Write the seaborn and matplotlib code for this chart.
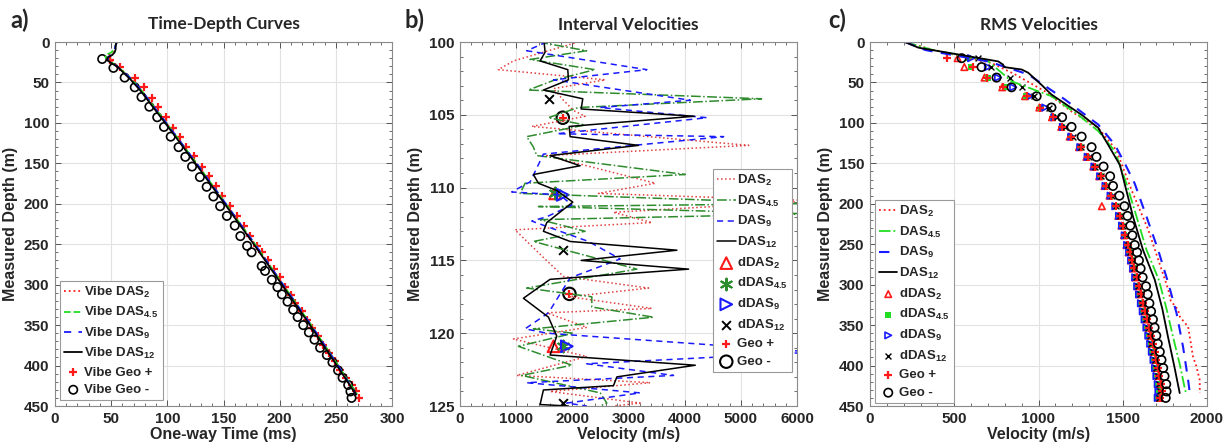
import matplotlib
matplotlib.use("Agg")
import matplotlib.pyplot as plt
from matplotlib.ticker import MultipleLocator, AutoMinorLocator
import seaborn as sns

# ---------------- a) time-depth curves ----------------
das_depth_a = [0, 4, 9, 13, 16, 19, 22, 26, 31, 38, 46, 60, 80, 100, 150, 200, 250, 300, 350, 400, 436]
das2_time_a = [55, 54, 53, 51, 48, 47, 48, 52, 57, 62, 68, 77, 88, 99, 126, 152, 178, 203, 228, 252, 268]
das45_time_a = [55, 54, 53, 50, 45, 45, 47, 51, 56, 62, 68, 77, 88, 99, 126, 152, 178, 203, 228, 252, 269]
das9_time_a = [55, 54, 53, 52, 50, 47, 47, 51, 56, 62, 68, 77, 88, 99, 126, 152, 178, 203, 228, 252, 268]
das12_time_a = [55, 54, 54, 53, 51, 47, 46, 50, 56, 61, 67, 76, 87, 98, 125, 151, 177, 202, 227, 251, 268]

geo_plus_depth_a = [22, 31, 44, 56, 69, 80, 93, 106, 117, 130, 141, 154, 166, 178, 191, 203, 215, 227, 240, 252,
                    260, 270, 281, 291, 303, 313, 323, 333, 344, 354, 364, 374, 384, 394, 405, 415, 424, 431, 440]
geo_plus_time_a = [49, 58, 71, 79, 86, 92, 99, 105, 111, 117, 124, 131, 137, 143, 149, 156, 162, 168, 174, 180,
                   184, 190, 195, 200, 205, 210, 214, 220, 224, 229, 234, 239, 244, 249, 254, 259, 264, 268, 271]
geo_minus_depth_a = [21, 32, 44, 56, 68, 80, 93, 105, 117, 130, 142, 154, 167, 179, 191, 203, 215, 227, 240, 252,
                     260, 277, 283, 294, 303, 312, 321, 331, 340, 350, 359, 368, 378, 387, 396, 406, 415, 424, 432, 440]
geo_minus_time_a = [42, 52, 62, 71, 77, 84, 91, 97, 103, 110, 116, 122, 129, 135, 141, 147, 153, 160, 165, 171,
                    175, 184, 187, 193, 198, 202, 207, 212, 216, 221, 226, 231, 236, 242, 247, 252, 256, 261, 263, 264]

# ---------------- b) interval velocities ----------------
das2_depth_b = [100.0, 101.3, 101.9, 102.6, 103.2, 104.0, 104.7, 105.1, 105.8, 107.1, 107.8, 109.7, 110.4, 110.9,
                111.7, 112.4, 112.9, 114.8, 116.1, 116.9, 117.5, 118.3, 118.6, 119.6, 120.4, 121.6, 122.9, 123.4,
                124.0, 124.8, 125.0]
das2_vel_b = [2109, 951, 683, 2585, 1664, 1842, 2020, 2228, 1278, 5140, 1545, 3476, 2466, 6300, 2733, 3416, 980,
              1485, 1842, 3357, 1950, 3416, 1545, 2258, 951, 2258, 1010, 3387, 1604, 3208, 2733]
das45_depth_b = [100.0, 100.6, 101.2, 101.9, 102.6, 103.3, 103.9, 104.5, 105.2, 105.7, 106.5, 107.2, 107.8, 109.1,
                 109.7, 110.4, 111.1, 111.3, 111.8, 112.2, 113.0, 113.7, 115.6, 116.9, 117.5, 118.2, 118.9, 119.7,
                 120.0, 120.9, 122.2, 122.9, 124.1, 124.8, 125.0]
das45_vel_b = [1394, 2255, 1246, 2403, 1691, 1216, 5370, 2106, 1572, 2225, 1187, 1305, 1367, 4011, 1159, 1070, 6200,
               1396, 6200, 1426, 2228, 1307, 3149, 1188, 2347, 2347, 3446, 1307, 2020, 1040, 1991, 1099, 2496, 2614, 2496]
das9_depth_b = [100.0, 100.6, 101.9, 102.6, 104.0, 104.5, 105.2, 106.3, 106.5, 107.7, 109.6, 110.3, 110.5, 111.2,
                112.0, 112.3, 113.7, 114.9, 116.2, 118.6, 119.7, 120.0, 121.3, 122.1, 122.9, 123.4, 124.1, 124.8, 125.0]
das9_vel_b = [1545, 1188, 3327, 1664, 4100, 2496, 4397, 1723, 4694, 1485, 1250, 921, 1783, 1991, 1545, 1278, 2288,
              2852, 1961, 1575, 1159, 1545, 6300, 2258, 3802, 1188, 3208, 1901, 2258]
das12_depth_b = [100.0, 100.7, 101.3, 101.9, 102.6, 103.3, 103.9, 104.6, 105.1, 105.8, 106.5, 107.1, 107.8, 108.5,
                 109.1, 109.7, 110.2, 111.0, 112.4, 113.0, 113.7, 114.3, 115.0, 115.6, 116.3, 117.6, 118.9, 120.2,
                 121.5, 122.2, 123.0, 123.6, 123.9, 124.9, 125.0]
das12_vel_b = [1497, 1515, 1426, 1919, 1931, 1485, 2186, 2157, 4170, 1943, 1961, 3179, 1604, 2139, 1307, 1396, 1723,
               2008, 1545, 1485, 1961, 3862, 2157, 4070, 1604, 1129, 1575, 1723, 1604, 4189, 2793, 2733, 1485, 1426, 1931]

ddas2_depth_b = [110.4, 120.9]
ddas2_vel_b = [1693, 1664]
ddas45_depth_b = [110.4, 120.9]
ddas45_vel_b = [1699, 1842]
ddas9_depth_b = [110.5, 120.9]
ddas9_vel_b = [1830, 1901]
ddas12_depth_b = [103.9, 114.3, 124.8]
ddas12_vel_b = [1592, 1830, 1830]
geo_depth_b = [105.2, 117.3]
geo_vel_b = [1830, 1949]

# ---------------- c) RMS velocities ----------------
das2_depth_c = [0, 10, 26, 40, 61, 86, 106, 134, 183, 232, 270, 306, 320, 331, 340, 352, 389, 401, 418, 434]
das2_vel_c = [208, 380, 722, 860, 1038, 1196, 1354, 1463, 1552, 1651, 1712, 1770, 1785, 1828, 1840, 1888, 1917,
              1937, 1957, 1957]
das45_depth_c = [0, 9.5, 23.5, 48.6, 67, 90, 110, 135, 175, 216, 257, 294, 330, 364, 400, 430, 434]
das45_vel_c = [208, 366, 700, 840, 1077, 1235, 1354, 1453, 1522, 1582, 1641, 1714, 1760, 1798, 1840, 1870, 1876]
das9_depth_c = [0, 10, 24, 40, 71, 102, 127, 150, 175, 216, 257, 298, 335, 377, 418, 434]
das9_vel_c = [208, 330, 700, 939, 1156, 1354, 1453, 1512, 1571, 1641, 1710, 1770, 1819, 1858, 1888, 1898]
das12_depth_c = [0, 7, 14, 24, 28, 31, 34, 38, 53, 65, 90, 106, 152, 216, 257, 294, 330, 364, 400, 434]
das12_vel_c = [208, 287, 484, 761, 790, 795, 900, 939, 1018, 1077, 1256, 1354, 1483, 1561, 1620, 1690, 1735, 1768,
               1805, 1838]

level_depth_c = [20, 31, 44, 56, 67, 81, 93, 105, 117, 130, 142, 154, 166, 178, 190, 203, 215, 227, 239, 251,
                 260, 270, 280, 291, 302, 312, 323, 333, 343, 353, 363, 373, 383, 393, 403, 413, 423, 432, 440]
ddas2_c = [520, 560, 680, 785, 920, 1005, 1080, 1135, 1185, 1240, 1285, 1325, 1360, 1392, 1422, 1376, 1474, 1492,
           1508, 1522, 1535, 1548, 1560, 1574, 1588, 1600, 1614, 1626, 1638, 1650, 1660, 1672, 1682, 1692, 1702,
           1710, 1720, 1726, 1718]
ddas45_c = [581, 600, 700, 800, 925, 1015, 1085, 1138, 1188, 1245, 1290, 1330, 1365, 1396, 1425, 1455, 1476, 1494,
            1510, 1524, 1536, 1548, 1560, 1572, 1584, 1596, 1608, 1620, 1632, 1643, 1654, 1665, 1675, 1685, 1694,
            1702, 1710, 1716, 1712]
ddas9_c = [600, 700, 760, 850, 950, 1040, 1095, 1145, 1195, 1248, 1292, 1332, 1366, 1398, 1428, 1456, 1478, 1496,
           1512, 1526, 1538, 1550, 1562, 1574, 1586, 1597, 1608, 1619, 1630, 1641, 1652, 1663, 1673, 1683, 1692,
           1700, 1708, 1712, 1708]
ddas12_c = [640, 720, 830, 900, 975, 1060, 1110, 1160, 1205, 1255, 1298, 1338, 1372, 1404, 1434, 1462, 1484, 1502,
            1518, 1532, 1544, 1556, 1568, 1580, 1592, 1604, 1615, 1627, 1638, 1649, 1660, 1670, 1680, 1690, 1700,
            1708, 1716, 1720, 1716]
geo_plus_c = [455, 613, 692, 790, 929, 1010, 1087, 1140, 1190, 1250, 1295, 1335, 1370, 1400, 1430, 1460, 1482, 1500,
              1515, 1530, 1542, 1556, 1568, 1582, 1596, 1610, 1622, 1634, 1646, 1658, 1668, 1680, 1690, 1700, 1710,
              1718, 1728, 1732, 1722]
geo_minus_c = [544, 662, 751, 840, 989, 1077, 1140, 1196, 1256, 1315, 1344, 1386, 1425, 1442, 1480, 1510, 1528, 1545,
               1557, 1571, 1585, 1596, 1606, 1618, 1638, 1648, 1658, 1668, 1679, 1689, 1699, 1708, 1720, 1730, 1740,
               1748, 1758, 1760, 1755]

# ---------------- style ----------------
sns.set_theme(style="ticks")
plt.rcParams["font.family"] = ["Liberation Sans", "DejaVu Sans"]
plt.rcParams["font.weight"] = "bold"
plt.rcParams["axes.labelweight"] = "bold"
plt.rcParams["mathtext.fontset"] = "custom"
plt.rcParams["mathtext.rm"] = "Liberation Sans:bold"
plt.rcParams["mathtext.bf"] = "Liberation Sans:bold"
plt.rcParams["mathtext.default"] = "bf"

RED = "#ff1a1a"
LGREEN = "#22dd22"
DGREEN = "#2e8b2e"
BLUE = "#1a1aff"

W, H = 1225, 448
fig = plt.figure(figsize=(W / 100, H / 100), dpi=100)
ax_a = fig.add_axes([55 / W, 1 - 406 / H, 337 / W, 364 / H])
ax_b = fig.add_axes([460 / W, 1 - 406 / H, 337 / W, 364 / H])
ax_c = fig.add_axes([870 / W, 1 - 406 / H, 337 / W, 364 / H])


def style_axes(ax, xlim, ylim, xstep, ystep, title, xlabel):
    ax.set_xlim(*xlim)
    ax.set_ylim(*ylim)
    ax.xaxis.set_major_locator(MultipleLocator(xstep))
    ax.yaxis.set_major_locator(MultipleLocator(ystep))
    ax.xaxis.set_minor_locator(AutoMinorLocator(5))
    ax.yaxis.set_minor_locator(AutoMinorLocator(5))
    ax.tick_params(which="both", direction="in", top=True, right=True, color="#555555",
                   labelsize=11, pad=4)
    ax.tick_params(which="major", length=4, width=0.7)
    ax.tick_params(which="minor", length=2, width=0.6)
    ax.grid(True, which="major", color="#e2e2e2", lw=0.8)
    ax.set_axisbelow(True)
    for s in ax.spines.values():
        s.set_color("#8a8a8a")
        s.set_linewidth(0.8)
    ax.set_title(title, family="Lato", fontsize=12.5, fontweight="bold", pad=9)
    ax.set_xlabel(xlabel, fontsize=11.5, labelpad=1)
    ax.set_ylabel("Measured Depth (m)", fontsize=11.5, labelpad=4)


def legend(ax, spacing, **kw):
    leg = ax.legend(fontsize=9.5, frameon=True, fancybox=False, handlelength=1.4, handletextpad=0.15,
                    labelspacing=spacing, borderpad=0.3, borderaxespad=0, **kw)
    leg.get_frame().set_edgecolor("#9a9a9a")
    leg.get_frame().set_linewidth(0.8)
    leg.get_frame().set_alpha(1)


def line(ax, x, y, color, ls, lw, label):
    sns.lineplot(x=x, y=y, sort=False, estimator=None, ax=ax, color=color, linestyle=ls, lw=lw, label=label)


def points(ax, x, y, marker, color, s, lw, label, hollow=False):
    if hollow:
        sns.scatterplot(x=x, y=y, ax=ax, marker=marker, facecolor="none", edgecolor=color, s=s,
                        linewidth=lw, label=label)
    else:
        sns.scatterplot(x=x, y=y, ax=ax, marker=marker, color=color, edgecolor=color, s=s, linewidth=lw,
                        label=label)


# ---- a ----
ax = ax_a
line(ax, das2_time_a, das_depth_a, RED, ":", 1.3, "Vibe DAS$_{2}$")
line(ax, das45_time_a, das_depth_a, LGREEN, "--", 1.3, "Vibe DAS$_{4.5}$")
line(ax, das9_time_a, das_depth_a, BLUE, (0, (4, 4)), 1.3, "Vibe DAS$_{9}$")
line(ax, das12_time_a, das_depth_a, "black", "-", 1.3, "Vibe DAS$_{12}$")
points(ax, geo_plus_time_a, geo_plus_depth_a, "+", RED, 40, 1.6, "Vibe Geo +")
points(ax, geo_minus_time_a, geo_minus_depth_a, "o", "black", 36, 1.2, "Vibe Geo -", hollow=True)
style_axes(ax, (0, 300), (450, 0), 50, 50, "Time-Depth Curves", "One-way Time (ms)")
legend(ax, 0.4, loc="lower left", bbox_to_anchor=(0.015, 0.016))

# ---- b ----
ax = ax_b
line(ax, das2_vel_b, das2_depth_b, "#e04040", ":", 1.1, "DAS$_{2}$")
line(ax, das45_vel_b, das45_depth_b, DGREEN, "-.", 1.1, "DAS$_{4.5}$")
line(ax, das9_vel_b, das9_depth_b, BLUE, (0, (4, 3)), 1.1, "DAS$_{9}$")
line(ax, das12_vel_b, das12_depth_b, "black", "-", 1.1, "DAS$_{12}$")
points(ax, ddas2_vel_b, ddas2_depth_b, "^", RED, 70, 1.5, "dDAS$_{2}$", hollow=True)
points(ax, ddas45_vel_b, ddas45_depth_b, (6, 2, 0), DGREEN, 70, 1.5, "dDAS$_{4.5}$")
points(ax, ddas9_vel_b, ddas9_depth_b, ">", BLUE, 70, 1.5, "dDAS$_{9}$", hollow=True)
points(ax, ddas12_vel_b, ddas12_depth_b, "x", "black", 40, 1.4, "dDAS$_{12}$")
points(ax, geo_vel_b, geo_depth_b, "+", RED, 40, 1.6, "Geo +")
points(ax, geo_vel_b, geo_depth_b, "o", "black", 80, 1.5, "Geo -", hollow=True)
style_axes(ax, (0, 6000), (125, 100), 1000, 5, "Interval Velocities", "Velocity (m/s)")
legend(ax, 0.42, loc="upper left", bbox_to_anchor=(0.751, 0.651))

# ---- c ----
ax = ax_c
line(ax, das2_vel_c, das2_depth_c, RED, ":", 1.3, "DAS$_{2}$")
line(ax, das45_vel_c, das45_depth_c, LGREEN, "-.", 1.3, "DAS$_{4.5}$")
line(ax, das9_vel_c, das9_depth_c, BLUE, (0, (5, 4)), 1.5, "DAS$_{9}$")
line(ax, das12_vel_c, das12_depth_c, "black", "-", 1.3, "DAS$_{12}$")
points(ax, ddas2_c, level_depth_c, "^", RED, 22, 1.2, "dDAS$_{2}$", hollow=True)
points(ax, ddas45_c, level_depth_c, "s", LGREEN, 16, 0, "dDAS$_{4.5}$")
points(ax, ddas9_c, level_depth_c, ">", BLUE, 22, 1.2, "dDAS$_{9}$", hollow=True)
points(ax, ddas12_c, level_depth_c, "x", "black", 18, 1.0, "dDAS$_{12}$")
points(ax, geo_plus_c, level_depth_c, "+", RED, 40, 1.6, "Geo +")
points(ax, geo_minus_c, level_depth_c, "o", "black", 36, 1.2, "Geo -", hollow=True)
style_axes(ax, (0, 2000), (450, 0), 500, 50, "RMS Velocities", "Velocity (m/s)")
legend(ax, 0.42, loc="lower left", bbox_to_anchor=(0.015, 0.008))

# panel letters
for x, letter in [(10, "a)"), (405, "b)"), (828, "c)")]:
    fig.text(x / W, 1 - 20 / H, letter, family="Lato", fontsize=17, fontweight="bold", va="center", ha="left")

fig.savefig("out.png", dpi=100)
